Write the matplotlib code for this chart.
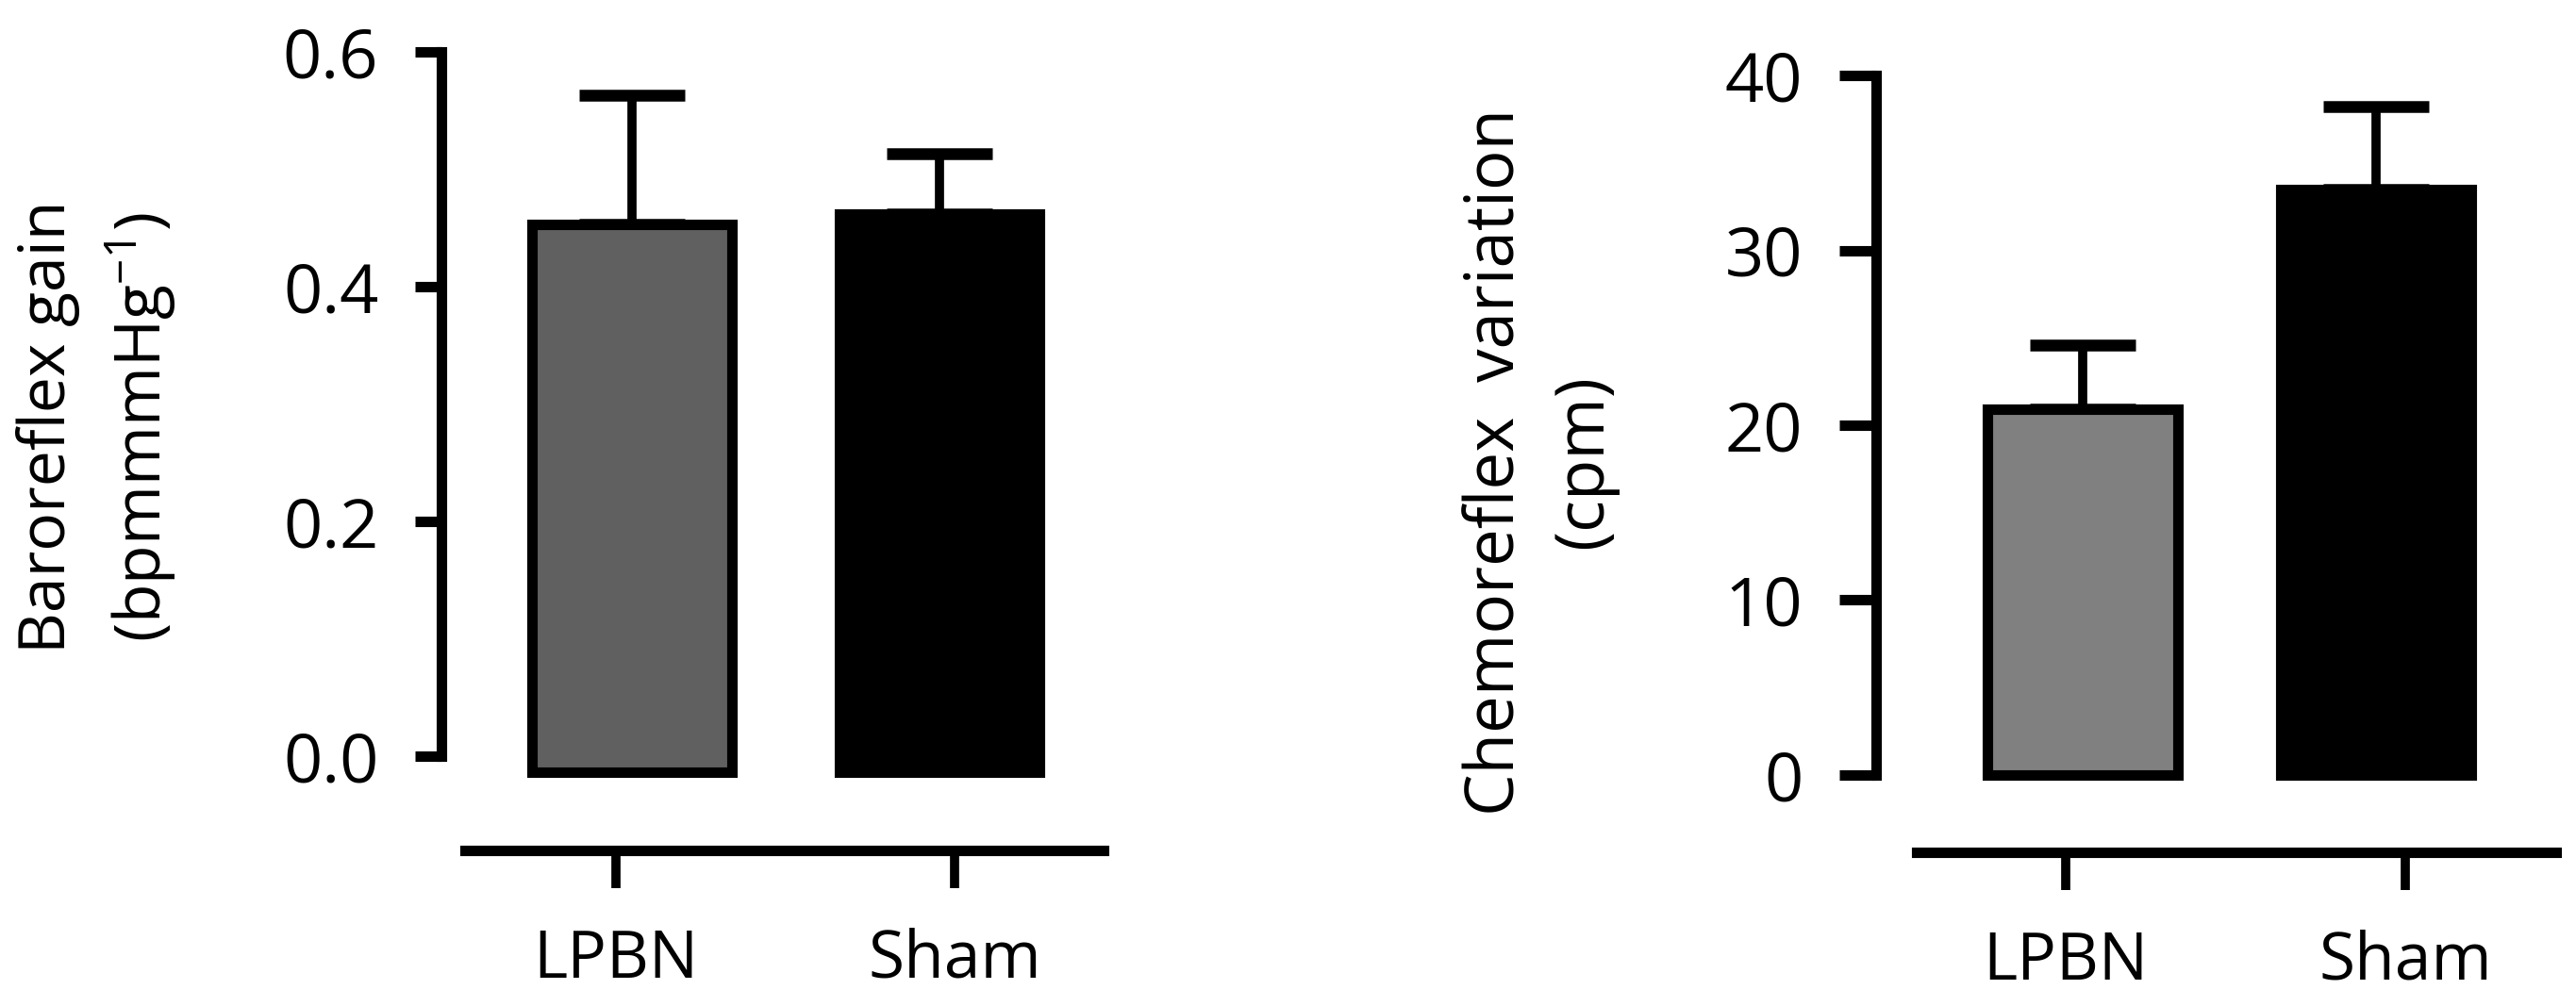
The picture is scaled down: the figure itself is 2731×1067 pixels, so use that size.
import numpy as np
import matplotlib
matplotlib.use('Agg')
import matplotlib.pyplot as plt

plt.rcParams['font.family'] = ['Open Sans', 'DejaVu Sans']
plt.rcParams['mathtext.fontset'] = 'custom'
plt.rcParams['mathtext.rm'] = 'Open Sans'
plt.rcParams['mathtext.it'] = 'Open Sans'

# data
groups = ['LPBN', 'Sham']
baro_mean = [0.453, 0.462]
baro_err = [0.110, 0.051]
chemo_mean = [20.9, 33.5]
chemo_err = [3.7, 4.7]
baro_ticks = [0.0, 0.2, 0.4, 0.6]
chemo_ticks = [0, 10, 20, 30, 40]

W, H = 2731, 1067
fig = plt.figure(figsize=(W / 100, H / 100), dpi=100)

LW = 8  # line width in points (~11 px)


def fx(px):
    return px / W


def fy(px):
    return (H - px) / H


def bar_panel(rect, xlim, ylim, means, errs, colors, ticks, labels, base, ticklen):
    ax = fig.add_axes(rect)
    x = np.arange(len(means))
    means = np.array(means)
    ax.bar(x, means - base, bottom=base, width=0.65, color=colors,
           edgecolor='black', linewidth=LW, zorder=3)
    ax.errorbar(x, means, yerr=[np.zeros(len(errs)), errs], fmt='none',
                ecolor='black', elinewidth=7, capsize=40, capthick=9, zorder=2)
    ax.set_xlim(*xlim)
    ax.set_ylim(*ylim)
    for s in ['top', 'right', 'bottom']:
        ax.spines[s].set_visible(False)
    ax.spines['left'].set_linewidth(LW)
    ax.spines['left'].set_bounds(ticks[0], ticks[-1])
    ax.spines['left'].set_capstyle('projecting')
    ax.set_xticks([])
    ax.set_yticks(ticks)
    ax.set_yticklabels(labels)
    ax.tick_params(axis='y', length=ticklen, width=LW, labelsize=52, pad=28)
    ax.patch.set_alpha(0)
    return ax


def cat_axis(rect, xlim):
    ax = fig.add_axes(rect)
    ax.set_xlim(*xlim)
    ax.set_ylim(0, 1)
    for s in ['top', 'right', 'left']:
        ax.spines[s].set_visible(False)
    ax.spines['bottom'].set_linewidth(LW)
    ax.set_yticks([])
    ax.set_xticks(range(len(groups)))
    ax.set_xticklabels(groups)
    ax.tick_params(axis='x', length=29, width=7, labelsize=50, pad=30)
    ax.patch.set_alpha(0)
    return ax


# left panel: baroreflex gain
bar_panel([fx(468), fy(839.35), fx(1170) - fx(468), fy(30.1) - fy(839.35)],
          (-0.62, 1.534), (-0.03, 0.62), baro_mean, baro_err,
          ['#606060', '#000000'], baro_ticks,
          ['%.1f' % t for t in baro_ticks], -0.014, 20)
cat_axis([fx(493), fy(902), fx(1170) - fx(493), 0.02], (-0.4457, 1.440))
fig.text(fx(103), fy(453), 'Baroreflex gain\n(bpmmmHg$^{-1}$)', rotation=90,
         ha='center', va='center', multialignment='center',
         fontsize=49, linespacing=1.4)

# right panel: chemoreflex variation
bar_panel([fx(1989), fy(849.8), fx(2710) - fx(1989), fy(52.2) - fy(849.8)],
          (-0.704, 1.614), (-1.5, 41.5), chemo_mean, chemo_err,
          ['#808080', '#000000'], chemo_ticks,
          ['%d' % t for t in chemo_ticks], 0.0, 28)
cat_axis([fx(2032), fy(904), fx(2710) - fx(2032), 0.02], (-0.439, 1.444))
fig.text(fx(1633), fy(490), 'Chemoreflex  variation\n(cpm)', rotation=90,
         ha='center', va='center', multialignment='center',
         fontsize=51, linespacing=1.4)

fig.savefig('out.png', dpi=100)
